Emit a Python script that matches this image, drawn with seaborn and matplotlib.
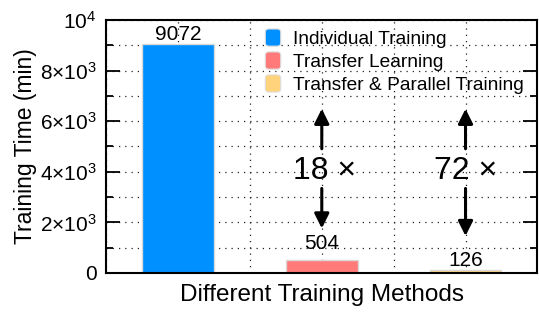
import matplotlib
matplotlib.use("Agg")
import matplotlib.pyplot as plt
import seaborn as sns
import pandas as pd
from matplotlib.patches import FancyBboxPatch, Patch
from matplotlib.legend_handler import HandlerPatch
from matplotlib.ticker import MultipleLocator

# --- data ---
methods = ["Individual Training", "Transfer Learning", "Transfer & Parallel Training"]
times = [9072, 504, 126]
colors = ["#0090FF", "#FF7A78", "#FFD37C"]
speedups = ["18 ×", "72 ×"]
ytick_vals = [0, 2000, 4000, 6000, 8000, 10000]
ytick_labels = ["0", "2×10$^3$", "4×10$^3$", "6×10$^3$", "8×10$^3$", "10$^4$"]

sns.set_style("ticks")
plt.rcParams["font.family"] = ["Liberation Sans", "DejaVu Sans"]
plt.rcParams["mathtext.fontset"] = "custom"
plt.rcParams["mathtext.rm"] = "Liberation Sans"
plt.rcParams["mathtext.default"] = "regular"
plt.rcParams["text.color"] = "black"
plt.rcParams["axes.labelcolor"] = "black"
plt.rcParams["ytick.color"] = "black"

df = pd.DataFrame({"method": methods, "time": times})

fig, ax = plt.subplots(figsize=(5.39, 3.13), dpi=100)
fig.subplots_adjust(left=0.197, right=0.997, top=0.936, bottom=0.128)

sns.barplot(data=df, x="method", y="time", hue="method", palette=colors,
            saturation=1, width=0.5, edgecolor="#d8d8d8", linewidth=1,
            legend=False, ax=ax)

ax.set_xlim(-0.5, 2.5)
ax.set_ylim(0, 10000)

# grid like gnuplot: dotted lines at every tick
ax.set_axisbelow(True)
ax.xaxis.set_minor_locator(MultipleLocator(0.5))
ax.set_yticks(ytick_vals)
ax.set_yticklabels(ytick_labels)
ax.yaxis.set_minor_locator(MultipleLocator(1000))
ax.grid(which="both", color="#222222", linestyle=(0, (1, 4)), linewidth=0.9)

ax.tick_params(axis="x", which="both", length=0, labelbottom=False)
ax.tick_params(axis="y", which="major", direction="in", length=10, width=1.3,
               right=True, labelsize=15, pad=7)
ax.tick_params(axis="y", which="minor", direction="in", length=5, width=1.3, right=True)
for s in ax.spines.values():
    s.set_linewidth(1.5)
    s.set_color("black")

ax.set_xlabel("Different Training Methods", fontsize=17.5, labelpad=8)
ax.set_ylabel("Training Time (min)", fontsize=16.5, labelpad=2)

# value labels
pads = [0, 5, 0]
for i, (v, p) in enumerate(zip(times, pads)):
    ax.annotate(str(v), (i, v), xytext=(0, p), textcoords="offset points",
                ha="center", va="bottom", fontsize=15)

# speedup annotations
arrow = dict(arrowstyle="-|>", color="black", lw=2.2, mutation_scale=22)
ax.annotate("", xy=(1, 6600), xytext=(1, 4800), arrowprops=arrow)
ax.annotate("", xy=(1, 1650), xytext=(1, 3450), arrowprops=arrow)
ax.annotate("", xy=(2, 6600), xytext=(2, 4800), arrowprops=arrow)
ax.annotate("", xy=(2, 1350), xytext=(2, 3450), arrowprops=arrow)
ax.text(1.02, 4050, speedups[0], ha="center", va="center", fontsize=23)
ax.text(2.0, 4050, speedups[1], ha="center", va="center", fontsize=23)


class RoundHandler(HandlerPatch):
    def create_artists(self, legend, orig, xdescent, ydescent, width, height, fontsize, trans):
        p = FancyBboxPatch((-xdescent + 1, -ydescent), width - 2, height,
                           boxstyle="round,pad=0,rounding_size=2.5",
                           facecolor=orig.get_facecolor(), edgecolor="#dddddd",
                           linewidth=0.8, transform=trans)
        return [p]


handles = [Patch(facecolor=c, label=m) for c, m in zip(colors, methods)]
ax.legend(handles=handles, loc="upper left", bbox_to_anchor=(0.348, 0.995),
          frameon=False, fontsize=13.8, handlelength=0.95, handleheight=1.0,
          handletextpad=0.55, labelspacing=0.2, borderaxespad=0,
          handler_map={Patch: RoundHandler()})

fig.savefig("out.png", dpi=100)
